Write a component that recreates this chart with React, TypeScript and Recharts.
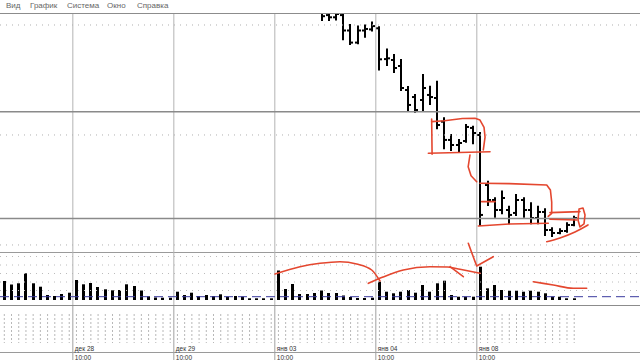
import React from 'react';
import { ComposedChart, Bar, Line, XAxis, YAxis, ReferenceLine } from 'recharts';

// ---------- data ----------
const menuItems = ['Вид', 'График', 'Система', 'Окно', 'Справка'];
const dayLabels = ['дек 28', 'дек 29', 'янв 03', 'янв 04', 'янв 08'];
const dayStartIndex = [10, 24, 38, 52, 66];
const dayStartTime = '10:00';

// hourly volumes, bar index 0..79
const volumes = [
  1900, 1550, 1670, 2670, 1670, 1330, 500, 400, 600, 730,
  2000, 1570, 1700, 1300, 1070, 970, 1000, 1570, 1400, 950,
  370, 250, 230, 230, 830, 500, 730, 400, 500, 400,
  570, 330, 400, 330, 170, 170, 170, 170, 2950, 1100,
  1600, 600, 600, 700, 950, 700, 700, 450, 300, 200,
  200, 230, 1830, 830, 670, 830, 1000, 730, 1500, 830,
  1670, 1930, 500, 330, 330, 330, 3330, 1170, 1500, 1000,
  930, 930, 830, 930, 830, 670, 330, 330, 170, 170,
];

// OHLC for the bars that are visible in the price window (index 44..79)
const priceStartIndex = 44;
const opens = [
  101.2, 100.9, 100.7, 100.9, 99.5, 98.4, 99.5, 99.6, 99.7, 96.9,
  96.82, 96.27, 94.09, 93.45, 93.18, 93.64, 93.36, 91.21, 89.55, 89.09,
  89.45, 90.64, 90.0, 85.45, 84.09, 83.18, 83.18, 82.91, 84.09, 83.18,
  82.45, 83.0, 81.36, 81.09, 81.27, 81.82,
];
const highs = [
  101.8, 101.6, 101.5, 101.1, 100.0, 99.86, 99.95, 100.23, 99.79, 97.77,
  97.27, 96.82, 94.36, 93.64, 95.45, 94.39, 94.85, 91.52, 90.0, 89.55,
  90.91, 90.75, 90.18, 85.75, 84.25, 84.85, 83.48, 84.55, 84.25, 83.79,
  83.48, 83.24, 81.52, 81.43, 81.97, 82.57,
];
const lows = [
  100.45, 100.45, 100.5, 98.7, 98.27, 98.34, 98.94, 99.5, 95.95, 96.36,
  95.73, 94.09, 92.27, 92.12, 92.27, 92.82, 90.61, 88.79, 88.64, 88.48,
  89.39, 89.25, 81.82, 83.64, 82.57, 82.88, 81.97, 82.73, 82.57, 81.97,
  81.97, 80.91, 80.82, 81.06, 81.21, 81.8,
];
const closes = [
  100.8, 100.7, 101.0, 99.5, 98.4, 99.5, 99.64, 99.9, 96.88, 96.97,
  96.09, 94.27, 92.73, 92.27, 94.27, 93.45, 90.91, 89.55, 89.09, 89.27,
  90.73, 90.18, 82.73, 84.09, 83.18, 84.27, 82.73, 84.09, 83.18, 82.45,
  83.0, 81.36, 81.09, 81.27, 81.82, 82.45,
];

const priceGridLevels = [100, 90, 80];
const userLevels = [92.12, 82.41];
const volumeGridLevels = [4350, 3500, 2650, 1800, 950];
const volumeMaLevel = 330;

// hand-drawn red annotations (bar index, price)
const annBox1Left = [{ i: 59.24, p: 91.45 }, { i: 59.3, p: 88.25 }];
const annBox1Top = [
  { i: 59.24, p: 91.21 }, { i: 61.0, p: 91.3 }, { i: 63.5, p: 91.5 }, { i: 65.25, p: 91.52 },
  { i: 65.94, p: 91.36 }, { i: 66.5, p: 90.7 }, { i: 66.64, p: 89.8 }, { i: 66.4, p: 88.64 },
];
const annBox1Bottom = [{ i: 58.78, p: 88.34 }, { i: 67.33, p: 88.48 }];
const annLink = [{ i: 64.55, p: 88.18 }, { i: 64.3, p: 87.1 }, { i: 64.7, p: 86.3 }, { i: 65.48, p: 85.75 }];
const annBox2Top = [
  { i: 65.94, p: 85.61 }, { i: 70, p: 85.58 }, { i: 75.19, p: 85.45 }, { i: 75.7, p: 85.0 },
  { i: 75.88, p: 83.9 }, { i: 75.88, p: 82.88 }, { i: 75.4, p: 82.6 },
];
const annBox2Bottom = [{ i: 65.71, p: 81.73 }, { i: 70, p: 81.9 }, { i: 75.41, p: 81.97 }];
const annBox2Tick = [{ i: 66.17, p: 83.94 }, { i: 68.02, p: 83.94 }];
const annBox3Top = [{ i: 75.64, p: 82.94 }, { i: 79.8, p: 83.03 }];
const annBox3Bottom = [{ i: 75.64, p: 82.34 }, { i: 79.34, p: 82.27 }];
const annRing = [
  { i: 79.67, p: 83.27 }, { i: 80.22, p: 83.36 }, { i: 80.5, p: 82.73 }, { i: 80.36, p: 81.91 },
  { i: 79.8, p: 81.64 }, { i: 79.53, p: 82.27 }, { i: 79.67, p: 83.27 },
];
const annLow = [{ i: 75.19, p: 80.3 }, { i: 77.03, p: 80.64 }, { i: 79.11, p: 81.18 }, { i: 80.91, p: 81.82 }];
const annSpikeTop = [{ i: 64.32, p: 80.15 }, { i: 64.76, p: 79.36 }];

// hand-drawn red annotations in the volume window (bar index, volume)
const annVolA = [
  { i: 37.52, v: 2600 }, { i: 40.99, v: 3330 }, { i: 43.76, v: 3670 }, { i: 46.53, v: 3830 },
  { i: 48.85, v: 3600 }, { i: 50.93, v: 3000 }, { i: 52.08, v: 1900 },
];
const annVolB = [
  { i: 50.46, v: 1670 }, { i: 52.5, v: 2300 }, { i: 55.31, v: 3000 }, { i: 59.01, v: 3330 },
  { i: 61.5, v: 3300 }, { i: 63.17, v: 3070 }, { i: 65.94, v: 2670 },
];
const annVolB2 = [{ i: 61.78, v: 3330 }, { i: 63.63, v: 2330 }];
const annVolSpike = [{ i: 64.76, v: 4800 }, { i: 65.48, v: 3400 }, { i: 67.78, v: 4330 }];
const annVolC = [{ i: 73.33, v: 1830 }, { i: 76.1, v: 1500 }, { i: 78.87, v: 1170 }, { i: 80.73, v: 1170 }];

// ---------- derived tables ----------
const priceData = opens.map((o, k) => ({
  i: priceStartIndex + k,
  hl: [lows[k], highs[k]],
  o,
  c: closes[k],
}));
const volumeData = volumes.map((v, i) => ({ i, v }));

const mainAnnotations = [
  annBox1Left, annBox1Top, annBox1Bottom, annLink, annBox2Top, annBox2Bottom,
  annBox2Tick, annBox3Top, annBox3Bottom, annRing, annSpikeTop,
];
const volAnnotations = [annVolA, annVolB, annVolB2, annVolC];

// ---------- styling ----------
const X_DOMAIN: [number, number] = [-0.596, 88.12];
const PRICE_DOMAIN: [number, number] = [79.36, 101];
const VOL_DOMAIN: [number, number] = [-500, 4800];
const RED = '#e4472f';
const NO_MARGIN = { top: 0, right: 0, bottom: 0, left: 0 };
const annProps: any = {
  stroke: RED,
  strokeWidth: 1.6,
  dot: false,
  activeDot: false,
  isAnimationActive: false,
  strokeLinecap: 'round',
  strokeLinejoin: 'round',
};

const OhlcShape = (props: any) => {
  const { x, y, width, height, payload } = props;
  if (x == null || y == null || !payload) return null;
  const top = Math.min(y, y + height);
  const bot = Math.max(y, y + height);
  const [lo, hi] = payload.hl;
  const k = hi === lo ? 0 : (bot - top) / (hi - lo);
  const yo = top + (hi - payload.o) * k;
  const yc = top + (hi - payload.c) * k;
  const cx = Math.round(x + width / 2);
  return (
    <g stroke="#000" strokeWidth={2}>
      <line x1={cx} x2={cx} y1={top - 1} y2={bot + 1} />
      <line x1={cx - 3} x2={cx} y1={yo} y2={yo} />
      <line x1={cx} x2={cx + 3} y1={yc} y2={yc} />
    </g>
  );
};

const VolumeShape = (props: any) => {
  const { x, y, width, height } = props;
  if (x == null || y == null) return null;
  const cx = x + width / 2;
  const top = Math.min(y, y + height);
  const h = Math.abs(height);
  return <rect x={Math.round(cx - 1.5)} y={top} width={3} height={h} fill="#000" />;
};

const DayLabel = ({ viewBox, text }: any) => {
  if (!viewBox) return null;
  const x = viewBox.x + 2;
  return (
    <g fontFamily="'Liberation Sans', Arial, sans-serif" fontSize={6.5} fill="#333">
      <text x={x} y={45}>{text}</text>
      <text x={x} y={53.5}>{dayStartTime}</text>
    </g>
  );
};

const hLine = (top: number, color: string, h = 1) => (
  <div style={{ position: 'absolute', left: 0, top, width: 640, height: h, background: color }} />
);

const layer = (top: number): React.CSSProperties => ({ position: 'absolute', left: 0, top });

export default function App() {
  return (
    <div
      style={{
        position: 'fixed',
        left: 0,
        top: 0,
        width: 640,
        height: 360,
        overflow: 'hidden',
        background: '#ffffff',
      }}
    >
      {/* menu bar */}
      {menuItems.map((m, k) => (
        <span
          key={m}
          style={{
            position: 'absolute',
            top: 1,
            left: [6, 30, 67, 107, 137][k],
            fontFamily: "'Liberation Sans', Arial, sans-serif",
            fontSize: 8,
            color: '#666',
            lineHeight: '10px',
          }}
        >
          {m}
        </span>
      ))}
      {hLine(12.5, '#8c8c8c', 1.5)}

      {/* price window */}
      <div style={layer(14)}>
        <ComposedChart width={640} height={238} data={priceData} margin={NO_MARGIN}>
          <XAxis type="number" dataKey="i" domain={X_DOMAIN} allowDataOverflow hide />
          <YAxis type="number" domain={PRICE_DOMAIN} allowDataOverflow hide />
          {priceGridLevels.map((p) => (
            <ReferenceLine key={'g' + p} y={p} stroke="#b0b0b0" strokeDasharray="1 5" />
          ))}
          {dayStartIndex.map((s) => (
            <ReferenceLine key={'d' + s} x={s - 0.5} stroke="#b4b4b4" />
          ))}
          {userLevels.map((p) => (
            <ReferenceLine key={'u' + p} y={p} stroke="#8a8a8a" strokeWidth={1.5} />
          ))}
          <Bar
            dataKey="hl"
            barSize={3}
            isAnimationActive={false}
            shape={(p: any) => <OhlcShape {...p} />}
          />
        </ComposedChart>
      </div>
      <div style={layer(14)}>
        <ComposedChart width={640} height={238} data={[]} margin={NO_MARGIN}>
          <XAxis type="number" dataKey="i" domain={X_DOMAIN} allowDataOverflow hide />
          <YAxis type="number" domain={PRICE_DOMAIN} allowDataOverflow hide />
          {mainAnnotations.map((d, k) => (
            <Line key={'a' + k} data={d} dataKey="p" type="linear" {...annProps} />
          ))}
          <Line data={annLow} dataKey="p" type="monotone" {...annProps} />
        </ComposedChart>
      </div>

      {/* volume window */}
      {hLine(251.5, '#9a9a9a', 1)}
      <div style={layer(252)}>
        <ComposedChart width={640} height={53} data={volumeData} margin={NO_MARGIN}>
          <XAxis type="number" dataKey="i" domain={X_DOMAIN} allowDataOverflow hide />
          <YAxis type="number" domain={VOL_DOMAIN} allowDataOverflow hide />
          {volumeGridLevels.map((v) => (
            <ReferenceLine key={'g' + v} y={v} stroke="#bcbcbc" strokeDasharray="1 5" />
          ))}
          {dayStartIndex.map((s) => (
            <ReferenceLine key={'d' + s} x={s - 0.5} stroke="#b4b4b4" />
          ))}
          <ReferenceLine y={volumeMaLevel} stroke="#3b3b9e" strokeDasharray="9 5" />
          <Bar
            dataKey="v"
            barSize={3}
            fill="#000"
            isAnimationActive={false}
            shape={(p: any) => <VolumeShape {...p} />}
          />
        </ComposedChart>
      </div>
      <div style={layer(252)}>
        <ComposedChart width={640} height={53} data={[]} margin={NO_MARGIN}>
          <XAxis type="number" dataKey="i" domain={X_DOMAIN} allowDataOverflow hide />
          <YAxis type="number" domain={VOL_DOMAIN} allowDataOverflow hide />
          {volAnnotations.map((d, k) => (
            <Line key={'v' + k} data={d} dataKey="v" type="monotone" {...annProps} />
          ))}
          <Line data={annVolSpike} dataKey="v" type="linear" {...annProps} />
        </ComposedChart>
      </div>
      {hLine(304.5, '#8c8c8c', 1.5)}

      {/* lower window with time scale */}
      <div style={layer(306)}>
        <ComposedChart width={640} height={54} data={volumeData} margin={NO_MARGIN}>
          <XAxis type="number" dataKey="i" domain={X_DOMAIN} allowDataOverflow hide />
          <YAxis type="number" domain={[0, 54]} allowDataOverflow hide />
          {volumeData.map((d) => (
            <ReferenceLine
              key={'t' + d.i}
              segment={[{ x: d.i, y: 46 }, { x: d.i, y: 17 }]}
              stroke="#b8b8b8"
              strokeDasharray="2 2"
            />
          ))}
          <ReferenceLine y={7.5} stroke="#9a9a9a" />
          {dayStartIndex.map((s, k) => (
            <ReferenceLine
              key={'d' + s}
              x={s - 0.5}
              stroke="#a0a0a0"
              label={(p: any) => <DayLabel viewBox={p.viewBox} text={dayLabels[k]} />}
            />
          ))}
        </ComposedChart>
      </div>
    </div>
  );
}
